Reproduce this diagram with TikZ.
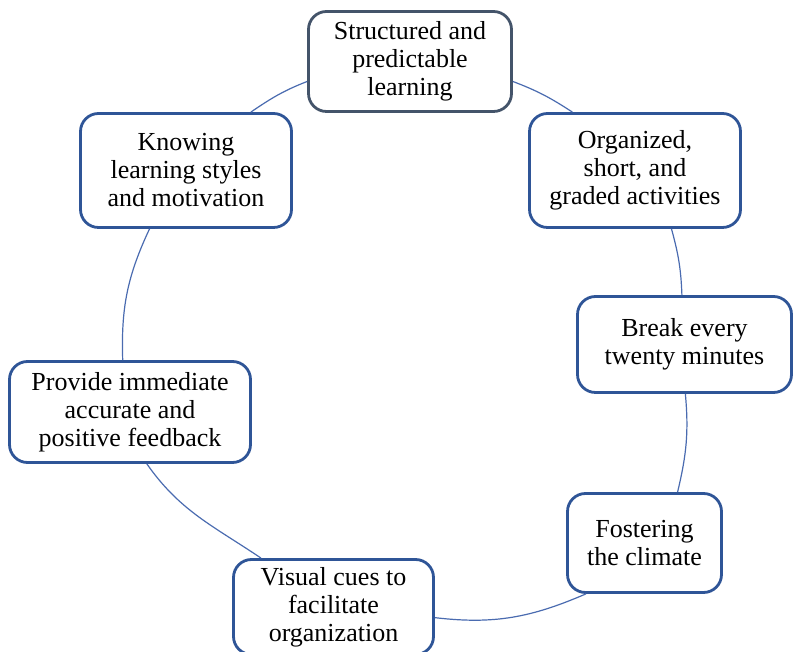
\documentclass[tikz,border=0pt]{standalone}
\usepackage{fontspec}
\setmainfont{Liberation Serif}
\usetikzlibrary{topaths}
\definecolor{boxblue}{HTML}{2F5597}
\definecolor{boxgray}{HTML}{44546A}
\definecolor{linkblue}{HTML}{4A6BB0}
\tikzset{
  cyclebox/.style={draw=boxblue, line width=2.8pt, rounded corners=18pt, fill=white,
    inner sep=0pt, align=center, text=black, font=\fontsize{26}{28}\selectfont},
  graybox/.style={cyclebox, draw=boxgray},
  link/.style={draw=linkblue, line width=1.2pt}
}
\begin{document}
\begin{tikzpicture}[x=1pt,y=1pt]
\useasboundingbox (0,0) rectangle (794,652);
\node[graybox, minimum width=203pt, minimum height=100pt] (top) at (410,590.5)
  {Structured and\\predictable\\learning};
\node[cyclebox, minimum width=211pt, minimum height=114pt] (org) at (635,481.5)
  {Organized,\\short, and\\graded activities};
\node[cyclebox, minimum width=214pt, minimum height=96pt] (brk) at (684.5,307.5)
  {Break every\\twenty minutes};
\node[cyclebox, minimum width=154pt, minimum height=99pt] (fost) at (644.5,109)
  {Fostering\\the climate};
\node[cyclebox, minimum width=200pt, minimum height=95pt] (vis) at (333.5,45)
  {Visual cues to\\facilitate\\organization};
\node[cyclebox, minimum width=241pt, minimum height=101pt] (prov) at (130,240)
  {Provide immediate\\accurate and\\positive feedback};
\node[cyclebox, minimum width=211pt, minimum height=114pt] (know) at (186,481.5)
  {Knowing\\learning styles\\and motivation};

\draw[link] (top.-11) to[out=-20.8, in=146.8] (org.137);
\draw[link] (org.-58) to[out=-74.7, in=92.1] (brk.93);
\draw[link] (brk.-89) to[out=-84.8, in=76.5] (fost.57);
\draw[link] (fost.-139) to[out=-156.7, in=-6.7] (vis.-6);
\draw[link] (vis.146) to[out=146, in=-55] (prov.-72);
\draw[link] (prov.98) to[out=91.9, in=-115.1] (know.-122);
\draw[link] (know.42) to[out=34.3, in=201.3] (top.191);
\end{tikzpicture}
\end{document}
